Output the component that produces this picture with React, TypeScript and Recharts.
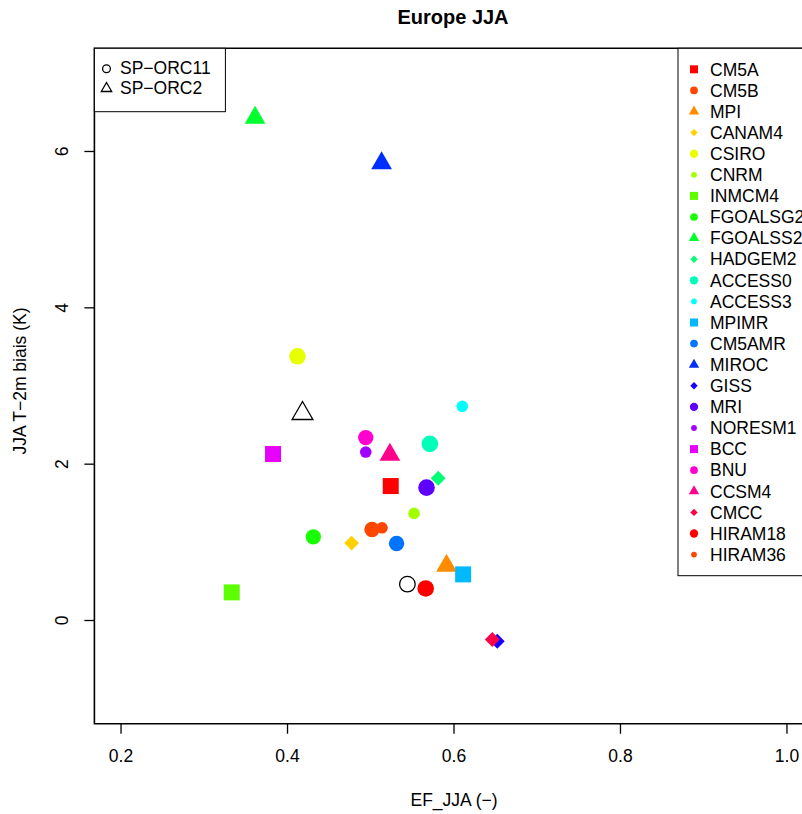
import React from 'react';
import { ScatterChart, Scatter, XAxis, YAxis, ReferenceArea } from 'recharts';

const models = ['CM5A', 'CM5B', 'MPI', 'CANAM4', 'CSIRO', 'CNRM', 'INMCM4', 'FGOALSG2', 'FGOALSS2', 'HADGEM2', 'ACCESS0', 'ACCESS3', 'MPIMR', 'CM5AMR', 'MIROC', 'GISS', 'MRI', 'NORESM1', 'BCC', 'BNU', 'CCSM4', 'CMCC', 'HIRAM18', 'HIRAM36'];
const efJJA = [0.524, 0.5015, 0.591, 0.477, 0.412, 0.552, 0.333, 0.431, 0.361, 0.581, 0.571, 0.610, 0.611, 0.531, 0.513, 0.652, 0.567, 0.494, 0.3826, 0.494, 0.523, 0.646, 0.566, 0.5135];
const biasJJA = [1.72, 1.165, 0.70, 0.99, 3.38, 1.37, 0.36, 1.07, 6.43, 1.82, 2.26, 2.74, 0.59, 0.985, 5.85, -0.265, 1.70, 2.155, 2.13, 2.34, 2.12, -0.243, 0.41, 1.186];
const modelColors = ['#FF0000', '#FF4600', '#FF8B00', '#FFD100', '#E8FF00', '#A2FF00', '#5DFF00', '#17FF00', '#00FF2E', '#00FF74', '#00FFB9', '#00FFFF', '#00B9FF', '#0074FF', '#002EFF', '#1700FF', '#5D00FF', '#A200FF', '#E800FF', '#FF00D1', '#FF008B', '#FF0046', '#FF0000', '#FF4600'];
const shapeCycle = ['square', 'circle', 'triangle', 'diamond', 'circleB', 'dot'];

const refNames = ['SP\u2212ORC11', 'SP\u2212ORC2'];
const refEF = [0.544, 0.418];
const refBias = [0.465, 2.648];
const refShapes = ['openCircle', 'openTriangle'];

const xTicks = [0.2, 0.4, 0.6, 0.8, 1.0];
const xTickLabels = ['0.2', '0.4', '0.6', '0.8', '1.0'];
const yTicks = [0, 2, 4, 6];
const yTickLabels = ['0', '2', '4', '6'];

const TITLE = 'Europe JJA';
const X_LABEL = 'EF_JJA (\u2212)';
const Y_LABEL = 'JJA T\u22122m biais (K)';

const FONT = '"Liberation Sans", Arial, Helvetica, sans-serif';
const X_DOMAIN: [number, number] = [0.168, 1.032];
const Y_DOMAIN: [number, number] = [-1.32, 7.32];

function Marker({ kind, cx, cy, color, s }: { kind: string; cx: number; cy: number; color: string; s: number }) {
  switch (kind) {
    case 'square':
      return <rect x={cx - 8 * s} y={cy - 8 * s} width={16 * s} height={16 * s} fill={color} />;
    case 'circle':
      return <circle cx={cx} cy={cy} r={7.7 * s} fill={color} />;
    case 'circleB':
      return <circle cx={cx} cy={cy} r={8.3 * s} fill={color} />;
    case 'dot':
      return <circle cx={cx} cy={cy} r={5.8 * s} fill={color} />;
    case 'triangle': {
      const pts = `${cx},${cy - 12 * s} ${cx + 10.4 * s},${cy + 6 * s} ${cx - 10.4 * s},${cy + 6 * s}`;
      return <polygon points={pts} fill={color} />;
    }
    case 'diamond': {
      const h = 7.4 * s;
      const pts = `${cx},${cy - h} ${cx + h},${cy} ${cx},${cy + h} ${cx - h},${cy}`;
      return <polygon points={pts} fill={color} />;
    }
    case 'openCircle':
      return <circle cx={cx} cy={cy} r={7.8 * s} fill="none" stroke="#000" strokeWidth={1.3} />;
    case 'openTriangle': {
      const pts = `${cx},${cy - 12 * s} ${cx + 10.4 * s},${cy + 6 * s} ${cx - 10.4 * s},${cy + 6 * s}`;
      return <polygon points={pts} fill="none" stroke="#000" strokeWidth={1.3} strokeLinejoin="miter" />;
    }
    default:
      return null;
  }
}

const XTick = (p: any) => (
  <text x={p.x} y={p.y + 28.3} textAnchor="middle" fontSize={17.5} fontFamily={FONT} fill="#000">
    {xTickLabels[xTicks.indexOf(p.payload.value)] ?? String(p.payload.value)}
  </text>
);

const YTick = (p: any) => (
  <text
    transform={`translate(${p.x - 16},${p.y}) rotate(-90)`}
    x={0}
    y={0}
    textAnchor="middle"
    fontSize={17.5}
    fontFamily={FONT}
    fill="#000"
  >
    {yTickLabels[yTicks.indexOf(p.payload.value)] ?? String(p.payload.value)}
  </text>
);

export default function App() {
  const rowH = 21.1;
  return (
    <div style={{ position: 'absolute', left: 0, top: 0, width: 802, height: 814, overflow: 'hidden', background: '#fff' }}>
      <ScatterChart width={830} height={814} margin={{ top: 48.3, right: 16.4, bottom: 0, left: 0 }}>
        <XAxis
          type="number"
          dataKey="x"
          domain={X_DOMAIN}
          ticks={xTicks}
          allowDataOverflow
          axisLine={false}
          tickLine={{ stroke: '#000', strokeWidth: 1.3 }}
          tickSize={10}
          tickMargin={0}
          height={90.3}
          tick={XTick}
          interval={0}
        />
        <YAxis
          type="number"
          dataKey="y"
          domain={Y_DOMAIN}
          ticks={yTicks}
          allowDataOverflow
          axisLine={false}
          tickLine={{ stroke: '#000', strokeWidth: 1.3 }}
          tickSize={10}
          tickMargin={0}
          width={94.4}
          tick={YTick}
          interval={0}
        />
        <ReferenceArea
          x1={X_DOMAIN[0]}
          x2={X_DOMAIN[1]}
          y1={Y_DOMAIN[0]}
          y2={Y_DOMAIN[1]}
          fill="none"
          fillOpacity={0}
          stroke="#000"
          strokeWidth={1.6}
          ifOverflow="visible"
        />
        {refNames.map((n, i) => (
          <Scatter
            key={n}
            name={n}
            data={[{ x: refEF[i], y: refBias[i] }]}
            isAnimationActive={false}
            shape={(p: any) => <Marker kind={refShapes[i]} cx={p.cx} cy={p.cy} color="#000" s={1} />}
          />
        ))}
        {models.map((m, i) => (
          <Scatter
            key={m}
            name={m}
            data={[{ x: efJJA[i], y: biasJJA[i] }]}
            isAnimationActive={false}
            shape={(p: any) => <Marker kind={shapeCycle[i % 6]} cx={p.cx} cy={p.cy} color={modelColors[i]} s={1} />}
          />
        ))}
      </ScatterChart>
      <svg
        width={802}
        height={814}
        style={{ position: 'absolute', left: 0, top: 0, pointerEvents: 'none' }}
        fontFamily={FONT}
      >
        <text x={453} y={24} textAnchor="middle" fontSize={20} fontWeight="bold" fill="#000">
          {TITLE}
        </text>
        <text x={454} y={806} textAnchor="middle" fontSize={17.5} fill="#000">
          {X_LABEL}
        </text>
        <text transform="translate(25.5,381) rotate(-90)" textAnchor="middle" fontSize={17.5} fill="#000">
          {Y_LABEL}
        </text>

        {/* left legend */}
        <rect x={94.4} y={48.3} width={131} height={63.4} fill="#fff" stroke="#000" strokeWidth={1} />
        {refNames.map((n, i) => (
          <g key={n}>
            <Marker kind={refShapes[i]} cx={106.5} cy={[68.8, 88.5][i]} color="#000" s={0.5} />
            <text x={120} y={[74.3, 94][i]} fontSize={17.5} fill="#000">
              {n}
            </text>
          </g>
        ))}

        {/* right legend */}
        <rect x={678} y={48.3} width={140} height={527.4} fill="#fff" stroke="#000" strokeWidth={1} />
        {models.map((m, i) => (
          <g key={m}>
            <Marker kind={shapeCycle[i % 6]} cx={694} cy={69.3 + i * rowH} color={modelColors[i]} s={0.5} />
            <text x={710} y={75.5 + i * rowH} fontSize={17.5} fill="#000">
              {m}
            </text>
          </g>
        ))}
      </svg>
    </div>
  );
}
